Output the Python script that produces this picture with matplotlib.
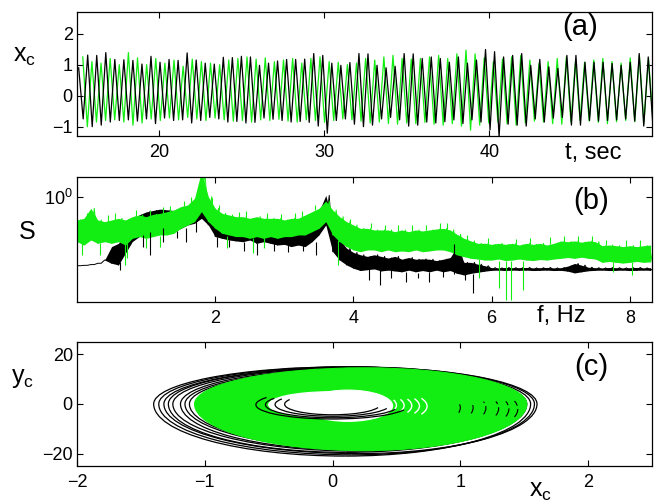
import numpy as np
import matplotlib
matplotlib.use('Agg')
import matplotlib.pyplot as plt
from matplotlib.patches import Ellipse, Arc, Rectangle
from matplotlib.ticker import NullLocator, FixedLocator

plt.rcParams['font.family'] = ['Liberation Sans', 'DejaVu Sans']
plt.rcParams['mathtext.default'] = 'regular'

GREEN = '#12ee12'

# ---------------- panel (a): x_c(t), extrema of each oscillation ----------------
blk_peaks = [0.90, 1.31, 1.30, 1.39, 1.17, 1.16, 1.14, 1.02,
             1.27, 1.08, 1.17, 1.14, 1.38, 1.15, 1.05, 1.02,
             1.24, 1.23, 1.27, 1.25, 0.98, 1.05, 1.12, 1.17,
             1.17, 1.18, 1.36, 1.30, 1.05, 0.98, 1.07, 1.36,
             1.35, 0.98, 0.90, 0.95, 1.36, 1.35, 1.20, 1.25,
             1.20, 1.08, 1.25, 1.05, 1.15, 1.49, 1.42, 1.25,
             1.30, 1.36, 0.98, 1.17, 0.93, 0.88, 1.30, 1.30,
             1.08, 1.08, 1.08, 1.04, 0.98, 1.08, 1.36, 1.25]
blk_troughs = [-0.75, -1.00, -0.95, -0.85, -0.80, -0.78, -0.82, -0.75,
               -0.90, -0.72, -0.80, -0.78, -0.88, -0.80, -0.70, -0.75,
               -0.85, -0.83, -0.88, -0.86, -0.72, -0.76, -0.80, -0.85,
               -0.83, -0.86, -0.98, -1.21, -0.80, -0.75, -0.92, -1.00,
               -0.95, -0.75, -0.70, -0.78, -0.98, -0.95, -0.85, -0.88,
               -0.84, -0.78, -0.90, -0.78, -0.85, -1.10, -1.33, -0.92,
               -0.95, -0.98, -0.75, -0.85, -0.72, -0.70, -0.95, -0.95,
               -0.80, -0.82, -0.80, -0.78, -0.75, -0.82, -0.98, -0.92]
grn_peaks = [1.25, 1.10, 1.05, 1.20, 1.00, 1.39, 1.22, 1.00, 1.20,
             1.05, 1.15, 0.95, 1.18, 1.10, 1.05, 1.00, 1.15, 1.20,
             1.25, 1.18, 1.22, 1.10, 1.15, 1.20, 1.05, 1.20, 1.25,
             1.10, 1.08, 1.00, 1.05, 1.20, 1.15, 1.25, 1.30, 1.20,
             1.18, 1.20, 1.25, 1.30, 1.20, 1.35, 1.47, 1.35, 1.22,
             1.10, 1.18, 1.25, 1.30, 1.15, 1.05, 1.10, 1.20, 1.25,
             1.12, 1.08, 1.15, 1.20, 1.10, 1.05, 1.22, 1.30, 1.20]
grn_troughs = [-1.00, -0.85, -0.80, -0.78, -0.85, -0.95, -0.88, -0.75, -0.80,
               -0.72, -0.78, -0.70, -0.75, -0.80, -0.72, -0.78, -0.82, -0.80,
               -0.85, -0.78, -0.80, -0.76, -0.82, -0.85, -0.78, -0.80, -0.86,
               -0.80, -0.75, -0.78, -0.82, -0.88, -0.85, -0.90, -0.92, -0.88,
               -0.90, -0.86, -0.92, -0.95, -0.90, -0.98, -1.11, -0.95, -0.88,
               -0.85, -0.90, -0.95, -0.88, -0.82, -0.85, -0.90, -0.92, -0.85,
               -0.80, -0.82, -0.86, -0.90, -0.84, -0.80, -0.84, -0.88, -0.82]
blk_t_start, blk_half_period = 15.1, 0.274
grn_t_start, grn_half_period = 15.35, 0.2765

# ---------------- panel (b): spectra, lower/upper envelope every 0.1 Hz ----------------
freq = np.round(np.arange(84) * 0.1, 1)
blk_lo = [0.282, 0.284, 0.288, 0.295, 0.313,
          0.295, 0.286, 0.355, 0.440, 0.482,
          0.512, 0.545, 0.528, 0.545, 0.528,
          0.561, 0.597, 0.616, 0.675, 0.597,
          0.482, 0.467, 0.453, 0.445, 0.439,
          0.453, 0.426, 0.439, 0.426, 0.413,
          0.418, 0.401, 0.413, 0.401, 0.439,
          0.497, 0.597, 0.365, 0.313, 0.286,
          0.269, 0.258, 0.262, 0.266, 0.256,
          0.260, 0.256, 0.252, 0.260, 0.252,
          0.258, 0.252, 0.260, 0.252, 0.258,
          0.245, 0.238, 0.245, 0.250, 0.255,
          0.259, 0.260, 0.258, 0.260, 0.259,
          0.260, 0.258, 0.259, 0.260, 0.258,
          0.259, 0.255, 0.247, 0.252, 0.257,
          0.259, 0.260, 0.258, 0.259, 0.260,
          0.258, 0.259, 0.260, 0.259]
blk_hi = [0.282, 0.284, 0.288, 0.295, 0.313,
          0.401, 0.426, 0.512, 0.655, 0.720,
          0.760, 0.780, 0.800, 0.790, 0.780,
          0.790, 0.800, 0.820, 0.874, 0.780,
          0.696, 0.675, 0.655, 0.665, 0.635,
          0.640, 0.616, 0.625, 0.597, 0.605,
          0.579, 0.597, 0.600, 0.616, 0.675,
          0.763, 1.030, 0.635, 0.453, 0.390,
          0.360, 0.345, 0.335, 0.345, 0.335,
          0.325, 0.335, 0.318, 0.328, 0.318,
          0.320, 0.318, 0.310, 0.318, 0.328,
          0.401, 0.300, 0.300, 0.290, 0.282,
          0.272, 0.271, 0.273, 0.272, 0.272,
          0.273, 0.271, 0.272, 0.273, 0.271,
          0.272, 0.280, 0.294, 0.285, 0.274,
          0.272, 0.271, 0.273, 0.272, 0.271,
          0.272, 0.273, 0.271, 0.272]
grn_lo = [0.439, 0.413, 0.453, 0.426, 0.439,
          0.426, 0.439, 0.413, 0.467, 0.482,
          0.467, 0.482, 0.497, 0.497, 0.512,
          0.561, 0.597, 0.635, 0.763, 0.635,
          0.561, 0.512, 0.497, 0.482, 0.482,
          0.467, 0.482, 0.467, 0.482, 0.467,
          0.482, 0.482, 0.497, 0.497, 0.528,
          0.561, 0.635, 0.497, 0.439, 0.401,
          0.377, 0.365, 0.377, 0.377, 0.365,
          0.377, 0.365, 0.370, 0.365, 0.377,
          0.365, 0.370, 0.377, 0.377, 0.365,
          0.344, 0.333, 0.323, 0.319, 0.313,
          0.313, 0.319, 0.310, 0.313, 0.319,
          0.313, 0.310, 0.316, 0.313, 0.319,
          0.323, 0.328, 0.323, 0.330, 0.323,
          0.319, 0.300, 0.305, 0.300, 0.296,
          0.300, 0.305, 0.300, 0.303]
grn_hi = [0.655, 0.675, 0.811, 0.655, 0.635,
          0.655, 0.675, 0.655, 0.696, 0.718,
          0.696, 0.727, 0.740, 0.763, 0.787,
          0.837, 0.863, 0.976, 1.600, 1.006,
          0.811, 0.740, 0.718, 0.696, 0.696,
          0.675, 0.696, 0.675, 0.675, 0.675,
          0.655, 0.675, 0.675, 0.718, 0.763,
          0.811, 0.930, 0.787, 0.696, 0.635,
          0.597, 0.561, 0.561, 0.545, 0.545,
          0.545, 0.528, 0.545, 0.528, 0.545,
          0.535, 0.545, 0.555, 0.561, 0.545,
          0.502, 0.467, 0.445, 0.426, 0.426,
          0.418, 0.426, 0.418, 0.426, 0.413,
          0.426, 0.418, 0.426, 0.413, 0.426,
          0.445, 0.439, 0.445, 0.435, 0.445,
          0.439, 0.408, 0.413, 0.408, 0.401,
          0.408, 0.401, 0.408, 0.413]
blk_spike_f = [0.62, 0.95, 1.06, 1.25, 1.44, 1.58, 1.72, 2.02, 2.20, 2.42, 2.60, 2.85,
               3.05, 3.27, 3.46, 4.22, 4.38, 4.55, 4.76, 4.93, 5.10, 5.30, 5.46, 5.62, 5.73]
blk_spike_lo = [0.261, 0.400, 0.344, 0.440, 0.467, 0.440, 0.520, 0.400, 0.400, 0.370, 0.344, 0.370,
                0.360, 0.370, 0.344, 0.215, 0.198, 0.225, 0.210, 0.224, 0.210, 0.230, 0.240, 0.215, 0.170]
blk_spike_hi = [0.300, 0.500, 0.520, 0.560, 0.530, 0.560, 0.640, 0.480, 0.450, 0.440, 0.430, 0.430,
                0.420, 0.420, 0.440, 0.270, 0.260, 0.270, 0.250, 0.245, 0.250, 0.260, 0.420, 0.260, 0.240]
grn_spike_f = [0.07, 0.34, 0.70, 0.73, 1.00, 1.20, 2.17, 2.55, 2.70, 3.78,
               5.82, 6.11, 6.21, 6.28, 6.45, 7.75, 8.03]
grn_spike_lo = [0.344, 0.344, 0.286, 0.323, 0.388, 0.401, 0.388, 0.354, 0.388, 0.286,
                0.224, 0.186, 0.150, 0.150, 0.180, 0.253, 0.238]
grn_spike_hi = [0.430, 0.430, 0.420, 0.430, 0.470, 0.490, 0.490, 0.470, 0.470, 0.450,
                0.320, 0.310, 0.310, 0.310, 0.310, 0.300, 0.300]
grn_whisk_f = [0.15, 0.45, 0.55, 0.85, 1.05, 1.25, 1.35, 1.55, 1.65, 1.95, 2.05, 2.35,
               2.45, 2.75, 2.95, 3.15, 3.25, 3.45, 3.95, 4.25, 4.45, 4.65, 4.85, 5.05,
               5.25, 5.35, 5.65, 5.95, 6.35, 6.55, 6.85, 7.05, 7.25, 7.45, 7.65, 7.95, 8.15]
grn_whisk_base = [0.66, 0.63, 0.65, 0.70, 0.70, 0.74, 0.76, 0.84, 0.90, 0.90, 0.78, 0.69,
                  0.69, 0.67, 0.66, 0.67, 0.69, 0.78, 0.61, 0.56, 0.54, 0.53, 0.53, 0.54,
                  0.55, 0.55, 0.45, 0.42, 0.42, 0.42, 0.42, 0.44, 0.44, 0.44, 0.41, 0.40, 0.40]
grn_whisk_top = [0.74, 0.72, 0.74, 0.78, 0.79, 0.83, 0.85, 0.93, 1.00, 0.98, 0.86, 0.76,
                 0.77, 0.74, 0.73, 0.74, 0.77, 0.86, 0.67, 0.62, 0.60, 0.60, 0.60, 0.60,
                 0.62, 0.62, 0.50, 0.47, 0.46, 0.47, 0.48, 0.49, 0.49, 0.49, 0.45, 0.45, 0.45]

# ---------------- panel (c): phase-portrait loops ----------------
# each loop: x of its top/bottom extremes, left tip, right tip, bottom, top
blk_loop_xc = [0.10, 0.15, 0.20, 0.10, 0.20, 0.15, 0.25, 0.20]
blk_loop_left = [-1.40, -1.36, -1.32, -1.285, -1.25, -1.19, -1.155, -1.12]
blk_loop_right = [1.55, 1.58, 1.60, 1.52, 1.48, 1.45, 1.42, 1.40]
blk_loop_bottom = [-21.0, -20.5, -20.0, -19.5, -19.0, -18.5, -18.0, -17.5]
blk_loop_top = [15.0, 15.0, 14.8, 14.5, 14.5, 14.0, 14.0, 13.5]
grn_loop = (0.25, -1.08, 1.52, -18.8, 14.6)
hole_cx = [0.12, -0.02]
hole_cy = [-0.7, -0.3]
hole_w = [0.70, 0.96]
hole_h = [12.6, 10.5]
white_ring_cx = [0.10, 0.10, 0.11, 0.12, 0.13]
white_ring_cy = [-0.5, -0.6, -0.7, -0.8, -0.9]
white_ring_w = [0.80, 0.92, 1.02, 1.12, 1.22]
white_ring_h = [13.0, 14.0, 15.0, 16.0, 17.0]
inner_blk_cx = [0.0, 0.0, 0.0, 0.0]
inner_blk_cy = [-0.3, -0.3, -0.2, -0.1]
inner_blk_w = [1.20, 1.05, 0.90, 0.75]
inner_blk_h = [11.5, 10.5, 9.5, 8.5]
right_blk_cx = [0.25, 0.25, 0.25, 0.25, 0.25, 0.25]
right_blk_cy = [-1.5, -1.5, -1.6, -1.8, -2.0, -2.0]
right_blk_w = [1.50, 1.70, 1.90, 2.10, 2.26, 2.40]
right_blk_h = [22.0, 24.0, 26.0, 28.0, 30.0, 31.0]

# ---------------- figure ----------------
fig = plt.figure(figsize=(6.56, 5.04), dpi=100)
L, W = 77 / 656, 575 / 656
axa = fig.add_axes([L, 1 - 136 / 504, W, 124 / 504])
axb = fig.add_axes([L, 1 - 302 / 504, W, 125 / 504])
axc = fig.add_axes([L, 1 - 466 / 504, W, 124 / 504])

for ax in (axa, axb, axc):
    ax.tick_params(direction='in', top=True, right=True, length=4, width=0.8,
                   labelsize=13, colors='k')
    ax.tick_params(axis='x', pad=6)
    ax.tick_params(axis='y', pad=3)
    for s in ax.spines.values():
        s.set_linewidth(0.9)


def interleave(a, b):
    out = np.empty(len(a) + len(b))
    out[0::2] = a
    out[1::2] = b
    return out


# (a)
bv = interleave(blk_peaks, blk_troughs)
bt = blk_t_start + blk_half_period * np.arange(bv.size)
gv = interleave(grn_peaks, grn_troughs)
gt = grn_t_start + grn_half_period * np.arange(gv.size)
axa.plot(gt, gv, color=GREEN, lw=0.9)
axa.plot(bt, bv, color='k', lw=0.9)
axa.set_xlim(15, 49.85)
axa.set_ylim(-1.3, 2.7)
axa.set_xticks([20, 30, 40])
axa.set_yticks([-1, 0, 1, 2])
axa.text(0.875, 0.875, '(a)', transform=axa.transAxes, fontsize=21, ha='center', va='center')
axa.text(0.897, -0.137, 't, sec', transform=axa.transAxes, fontsize=17, ha='center', va='center')
fig.text(25 / 656, 1 - 56 / 504, r'$\mathregular{x_c}$', fontsize=18, ha='center', va='center')

# (b)
axb.set_yscale('log')
fz = interleave(freq, freq + 0.05)
axb.fill_between(freq, blk_lo, blk_hi, color='k', lw=0, zorder=1.0)
axb.plot(fz, interleave(blk_lo, blk_hi), color='k', lw=0.7, zorder=1.1)
axb.fill_between(freq, grn_lo, grn_hi, color=GREEN, lw=0, zorder=1.2)
axb.plot(fz, interleave(grn_lo, grn_hi), color=GREEN, lw=0.7, zorder=1.3)
axb.vlines(grn_whisk_f, grn_whisk_base, grn_whisk_top, color=GREEN, lw=0.8, zorder=1.4)
axb.vlines(blk_spike_f, blk_spike_lo, blk_spike_hi, color='k', lw=0.8, zorder=1.5)
axb.vlines(grn_spike_f, grn_spike_lo, grn_spike_hi, color=GREEN, lw=0.8, zorder=1.6)
axb.set_xlim(0, 8.32)
axb.set_ylim(10 ** -0.84, 10 ** 0.16)
axb.set_xticks([2, 4, 6, 8])
axb.yaxis.set_major_locator(FixedLocator([1.0]))
axb.yaxis.set_minor_locator(NullLocator())
axb.set_yticklabels([r'$\mathregular{10^0}$'])
axb.text(0.894, 0.808, '(b)', transform=axb.transAxes, fontsize=21, ha='center', va='center')
axb.text(0.842, -0.112, 'f, Hz', transform=axb.transAxes, fontsize=17, ha='center', va='center')
fig.text(27 / 656, 1 - 232 / 504, 'S', fontsize=18, ha='center', va='center')


# (c)
def quarter_params(xc, left, right, bottom, top):
    # (centre, width, height, theta1, theta2) of the four quarter-ellipses of a loop
    return [((xc, 0), 2 * (right - xc), 2 * top, 0, 90),
            ((xc, 0), 2 * (xc - left), 2 * top, 90, 180),
            ((xc, 0), 2 * (xc - left), -2 * bottom, 180, 270),
            ((xc, 0), 2 * (right - xc), -2 * bottom, 270, 360)]


for loop in zip(blk_loop_xc, blk_loop_left, blk_loop_right, blk_loop_bottom, blk_loop_top):
    for c, w, h, t1, t2 in quarter_params(*loop):
        axc.add_patch(Arc(c, w, h, theta1=t1, theta2=t2, ec='k', lw=0.9, zorder=2))

gxc, gl, gr, gb, gtop = grn_loop
quadrants = [(gxc, 0, gr - gxc + 0.1, gtop + 1), (gl - 0.1, 0, gxc - gl + 0.1, gtop + 1),
             (gl - 0.1, gb - 1, gxc - gl + 0.1, -gb + 1), (gxc, gb - 1, gr - gxc + 0.1, -gb + 1)]
for (c, w, h, t1, t2), (qx, qy, qw, qh) in zip(quarter_params(*grn_loop), quadrants):
    e = Ellipse(c, w, h, fc=GREEN, ec=GREEN, lw=0.8, zorder=3)
    axc.add_patch(e)
    r = Rectangle((qx, qy), qw, qh, transform=axc.transData)
    e.set_clip_path(r)

for cx, cy, w, h in zip(hole_cx, hole_cy, hole_w, hole_h):
    axc.add_patch(Ellipse((cx, cy), w, h, fc='white', ec='white', lw=0.8, zorder=4))
for cx, cy, w, h in zip(white_ring_cx, white_ring_cy, white_ring_w, white_ring_h):
    axc.add_patch(Arc((cx, cy), w, h, theta1=-80, theta2=80, ec='white', lw=1.0, zorder=4))
for cx, cy, w, h in zip(inner_blk_cx, inner_blk_cy, inner_blk_w, inner_blk_h):
    axc.add_patch(Arc((cx, cy), w, h, theta1=100, theta2=285, ec='k', lw=0.9, zorder=5))
for cx, cy, w, h in zip(right_blk_cx, right_blk_cy, right_blk_w, right_blk_h):
    axc.add_patch(Arc((cx, cy), w, h, theta1=-70, theta2=70, ec='k', lw=0.8,
                      ls=(0, (8, 3)), zorder=5))
axc.set_xlim(-2, 2.5)
axc.set_ylim(-25, 25)
axc.set_xticks([-2, -1, 0, 1, 2])
axc.set_yticks([-20, 0, 20])
axc.text(0.894, 0.80, '(c)', transform=axc.transAxes, fontsize=21, ha='center', va='center')
axc.text(0.807, -0.205, r'$\mathregular{x_c}$', transform=axc.transAxes, fontsize=18,
         ha='center', va='center')
fig.text(23 / 656, 1 - 378 / 504, r'$\mathregular{y_c}$', fontsize=18, ha='center', va='center')

fig.savefig('out.png', dpi=100)
